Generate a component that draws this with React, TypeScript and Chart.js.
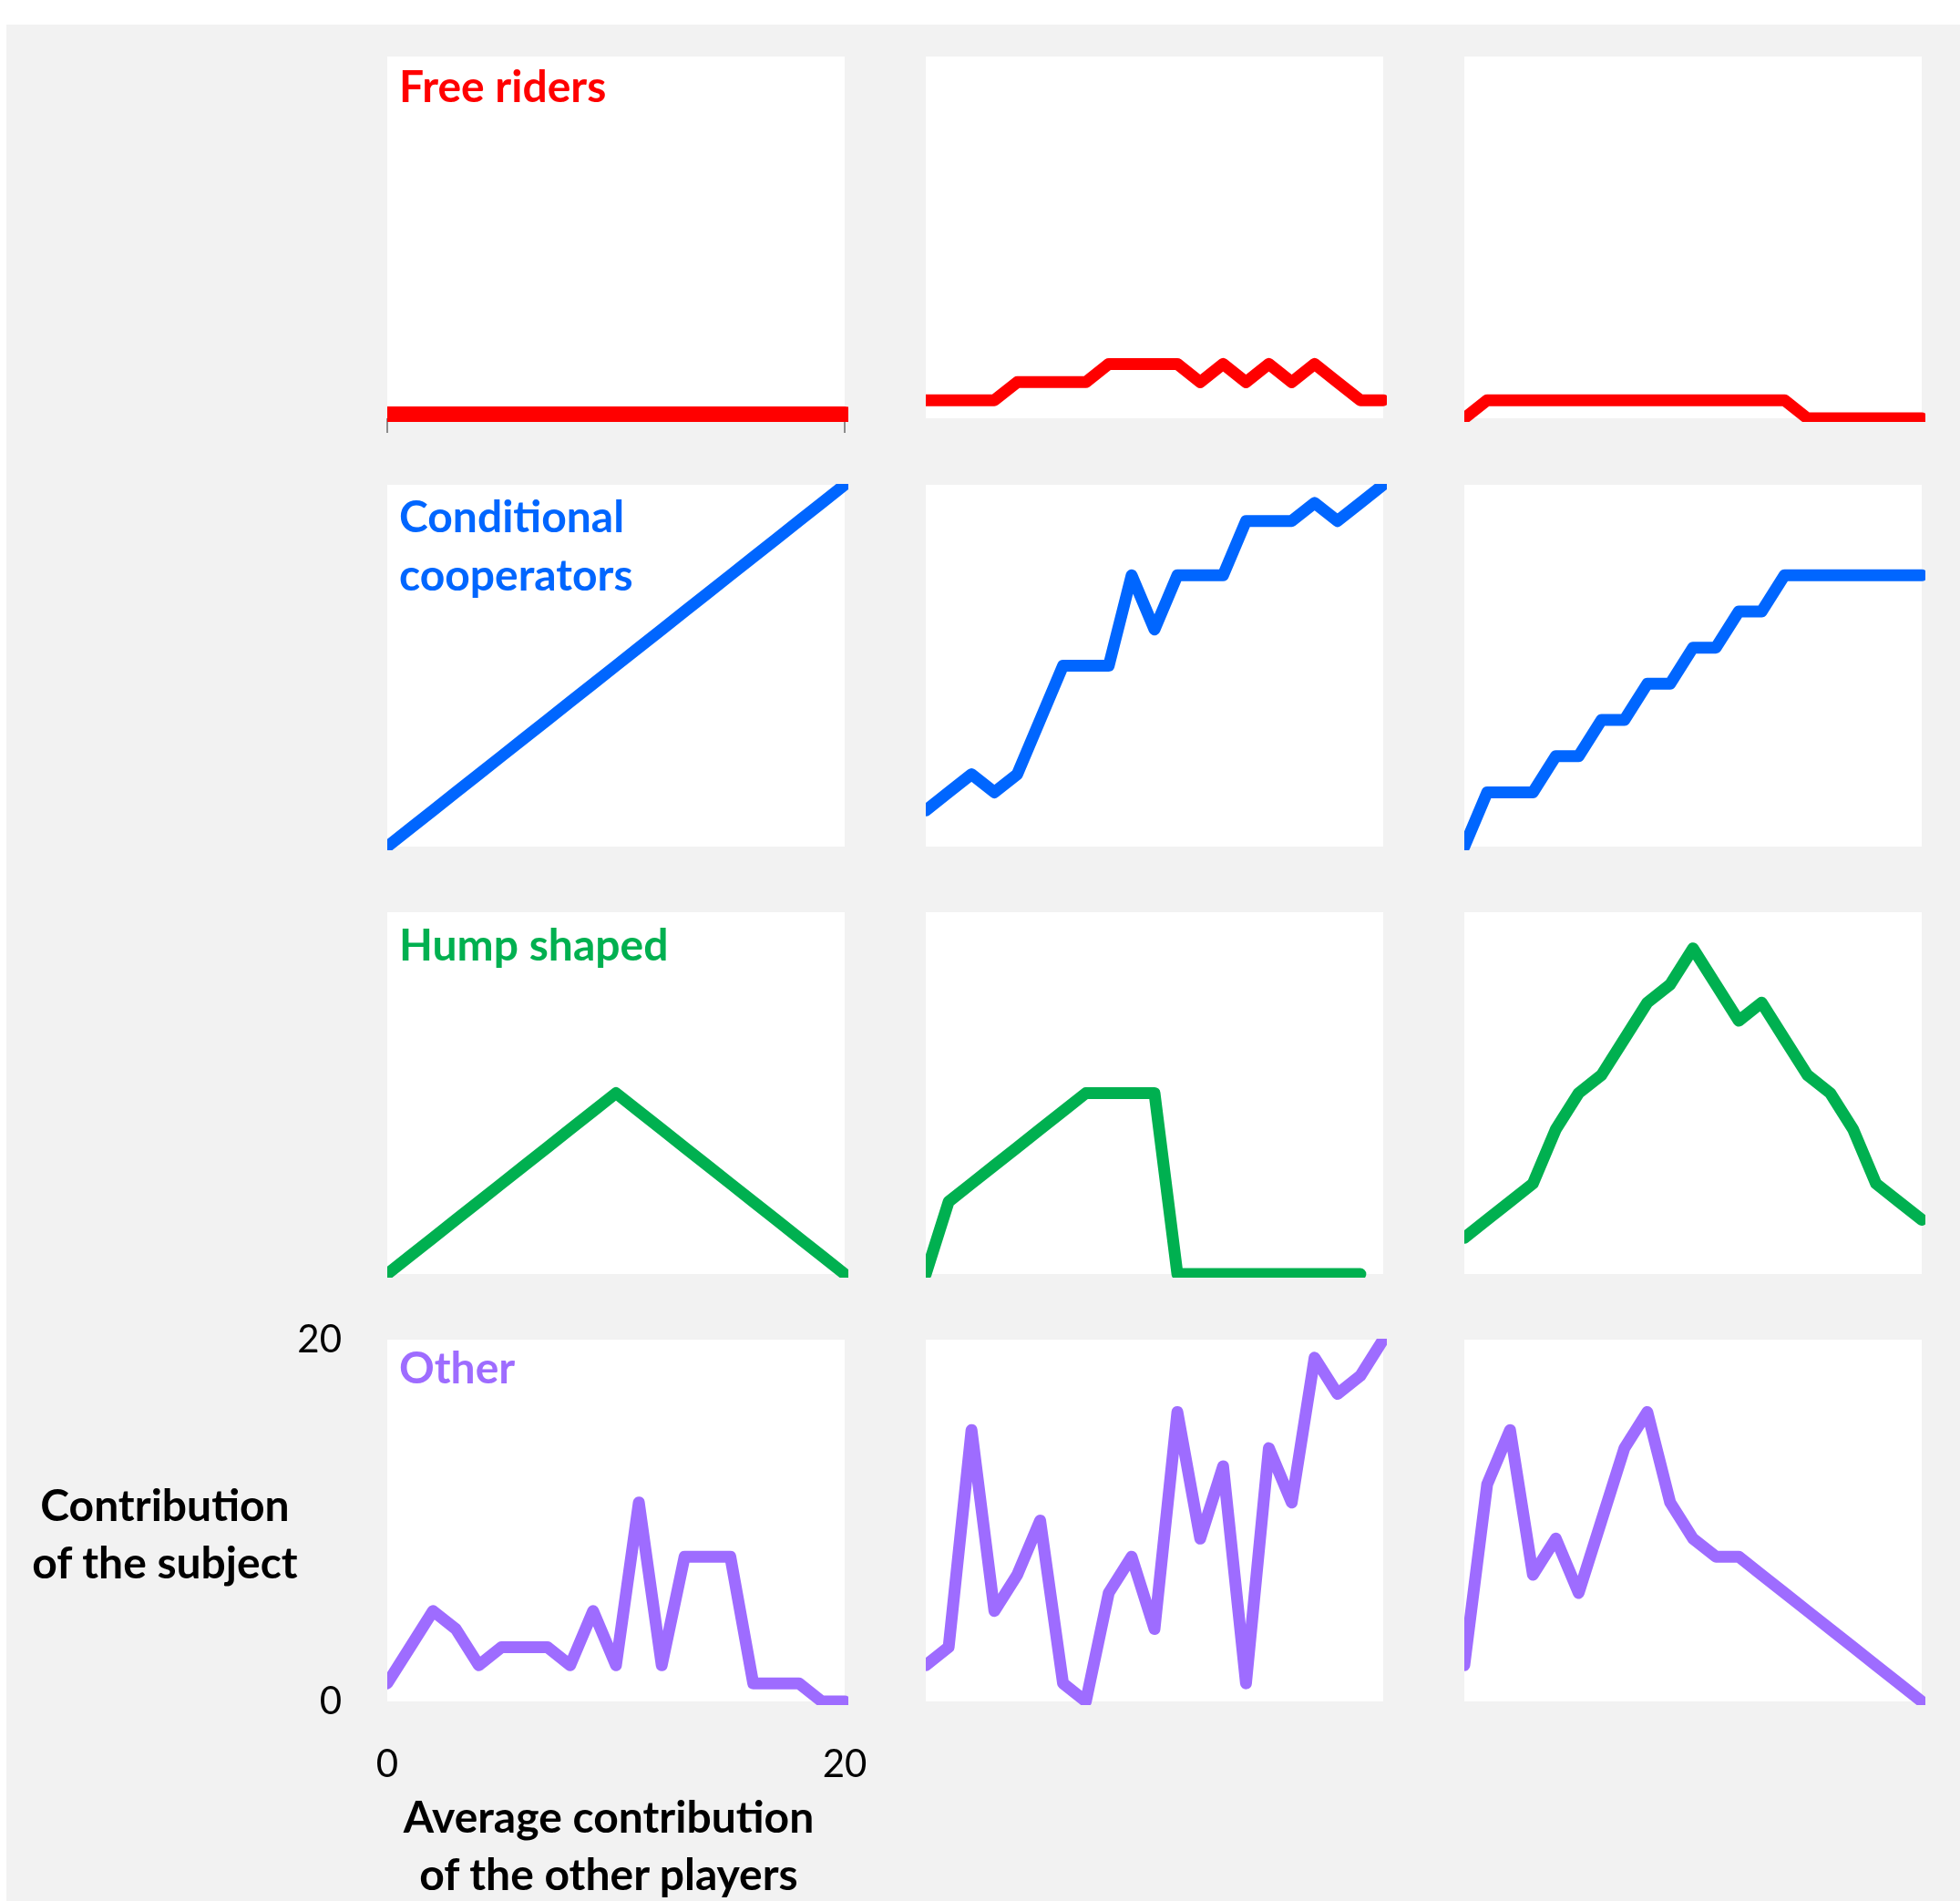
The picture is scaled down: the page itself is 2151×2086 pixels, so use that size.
import React, { useEffect, useRef } from "react";
import { Chart, registerables } from "chart.js";

Chart.register(...registerables);

// ---------- data ----------
const X_VALUES = [0, 1, 2, 3, 4, 5, 6, 7, 8, 9, 10, 11, 12, 13, 14, 15, 16, 17, 18, 19, 20];
const AXIS_TICKS = [0, 20];

const FREE_RIDERS_1 = [0, 0, 0, 0, 0, 0, 0, 0, 0, 0, 0, 0, 0, 0, 0, 0, 0, 0, 0, 0, 0];
const FREE_RIDERS_2 = [1, 1, 1, 1, 2, 2, 2, 2, 3, 3, 3, 3, 2, 3, 2, 3, 2, 3, 2, 1, 1];
const FREE_RIDERS_3 = [0, 1, 1, 1, 1, 1, 1, 1, 1, 1, 1, 1, 1, 1, 1, 0, 0, 0, 0, 0, 0];

const CONDITIONAL_1 = [0, 1, 2, 3, 4, 5, 6, 7, 8, 9, 10, 11, 12, 13, 14, 15, 16, 17, 18, 19, 20];
const CONDITIONAL_2 = [2, 3, 4, 3, 4, 7, 10, 10, 10, 15, 12, 15, 15, 15, 18, 18, 18, 19, 18, 19, 20];
const CONDITIONAL_3 = [0, 3, 3, 3, 5, 5, 7, 7, 9, 9, 11, 11, 13, 13, 15, 15, 15, 15, 15, 15, 15];

const HUMP_1 = [0, 1, 2, 3, 4, 5, 6, 7, 8, 9, 10, 9, 8, 7, 6, 5, 4, 3, 2, 1, 0];
const HUMP_2 = [0, 4, 5, 6, 7, 8, 9, 10, 10, 10, 10, 0, 0, 0, 0, 0, 0, 0, 0, 0];
const HUMP_3 = [2, 3, 4, 5, 8, 10, 11, 13, 15, 16, 18, 16, 14, 15, 13, 11, 10, 8, 5, 4, 3];

const OTHER_1 = [1, 3, 5, 4, 2, 3, 3, 3, 2, 5, 2, 11, 2, 8, 8, 8, 1, 1, 1, 0, 0];
const OTHER_2 = [2, 3, 15, 5, 7, 10, 1, 0, 6, 8, 4, 16, 9, 13, 1, 14, 11, 19, 17, 18, 20];
const OTHER_3 = [2, 12, 15, 7, 9, 6, 10, 14, 16, 11, 9, 8, 8, 7, 6, 5, 4, 3, 2, 1, 0];

const ROW_TITLES = [["Free riders"], ["Conditional", "cooperators"], ["Hump shaped"], ["Other"]];
const Y_AXIS_TITLE = ["Contribution", "of the subject"];
const X_AXIS_TITLE = ["Average contribution", "of the other players"];

// ---------- styles ----------
const RED = "#FF0000";
const BLUE = "#0066FF";
const GREEN = "#00B050";
const PURPLE = "#9E6CFF";
const ROW_COLORS = [RED, BLUE, GREEN, PURPLE];
const FONT = 'Lato, "Open Sans", "Noto Sans", sans-serif';

const COL_LEFT = [425, 1016, 1607];
const ROW_TOP = [62, 532, 1001, 1470];
const PANEL_W = 502;
const PANEL_H = 397;
const PAD = 30;
const AXES_PAD = { top: 90, right: 90, bottom: 30, left: 30 };
const TICKMARK_LEN = 16;
const YAXW = 120;
const XAXH = 100;

const SERIES: number[][][] = [
  [FREE_RIDERS_1, FREE_RIDERS_2, FREE_RIDERS_3],
  [CONDITIONAL_1, CONDITIONAL_2, CONDITIONAL_3],
  [HUMP_1, HUMP_2, HUMP_3],
  [OTHER_1, OTHER_2, OTHER_3],
];

const whitePanel = {
  id: "whitePanel",
  beforeDraw(chart: any) {
    const { ctx, chartArea } = chart;
    if (!chartArea) return;
    ctx.save();
    ctx.fillStyle = "#FFFFFF";
    ctx.fillRect(chartArea.left, chartArea.top, chartArea.right - chartArea.left, chartArea.bottom - chartArea.top);
    ctx.restore();
  },
};

type Kind = "plain" | "tickmarks" | "axes";

function Panel({ row, col, values, color, lineWidth, kind }: { row: number; col: number; values: number[]; color: string; lineWidth: number; kind: Kind }) {
  const ref = useRef<HTMLCanvasElement>(null);

  const pad = kind === "axes" ? AXES_PAD : { top: PAD, right: PAD, bottom: PAD, left: PAD };
  let left = COL_LEFT[col] - pad.left;
  let top = ROW_TOP[row] - pad.top;
  let width = PANEL_W + pad.left + pad.right;
  let height = PANEL_H + pad.top + pad.bottom;
  if (kind === "tickmarks") height += TICKMARK_LEN;
  if (kind === "axes") {
    left -= YAXW;
    width += YAXW;
    height += XAXH;
  }

  useEffect(() => {
    const canvas = ref.current;
    if (!canvas) return;
    const setTicks = (s: any) => {
      s.ticks = AXIS_TICKS.map((value) => ({ value }));
    };
    const tickFont = { family: FONT, size: 42, weight: "normal" as const };

    const xScale: any = {
      type: "linear",
      min: 0,
      max: 20,
      display: kind !== "plain",
      afterBuildTicks: setTicks,
      border: { display: false },
    };
    const yScale: any = {
      type: "linear",
      min: 0,
      max: 20,
      display: kind === "axes",
      afterBuildTicks: setTicks,
      border: { display: false },
    };
    if (kind === "tickmarks") {
      xScale.grid = { display: true, drawOnChartArea: false, drawTicks: true, tickLength: TICKMARK_LEN, lineWidth: 2, color: "#8C8C8C" };
      xScale.ticks = { display: false };
    }
    if (kind === "axes") {
      xScale.grid = { display: false, drawOnChartArea: false, drawTicks: false };
      xScale.ticks = { display: true, padding: 44, font: tickFont, color: "#000000", maxRotation: 0, autoSkip: false };
      xScale.afterFit = (s: any) => {
        s.height = XAXH;
      };
      yScale.grid = { display: false, drawOnChartArea: false, drawTicks: false };
      yScale.ticks = { display: true, padding: 50, font: tickFont, color: "#000000", autoSkip: false };
      yScale.afterFit = (s: any) => {
        s.width = YAXW;
      };
    }

    const chart = new Chart(canvas, {
      type: "line",
      data: {
        datasets: [
          {
            data: values.map((v, i) => ({ x: X_VALUES[i], y: v })),
            borderColor: color,
            backgroundColor: color,
            borderWidth: lineWidth,
            borderCapStyle: "round",
            borderJoinStyle: "round",
            pointRadius: 0,
            pointHoverRadius: 0,
            tension: 0,
            fill: false,
            clip: { left: 0, top: 1, right: 4, bottom: 4 } as any,
          },
        ],
      },
      options: {
        responsive: false,
        maintainAspectRatio: false,
        animation: false,
        devicePixelRatio: 1,
        events: [],
        layout: { padding: pad },
        plugins: {
          legend: { display: false },
          tooltip: { enabled: false },
          title: { display: false },
        },
        scales: { x: xScale, y: yScale },
      },
      plugins: [whitePanel],
    });
    return () => chart.destroy();
  }, []);

  return (
    <canvas
      ref={ref}
      width={width}
      height={height}
      style={{ position: "absolute", left, top, width, height }}
    />
  );
}

export default function App() {
  const panels: React.ReactNode[] = [];
  SERIES.forEach((rowSeries, r) => {
    rowSeries.forEach((values, c) => {
      let kind: Kind = "plain";
      if (r === 0 && c === 0) kind = "tickmarks";
      if (r === 3 && c === 0) kind = "axes";
      panels.push(
        <Panel
          key={`${r}-${c}`}
          row={r}
          col={c}
          values={values}
          color={ROW_COLORS[r]}
          lineWidth={r === 0 && c === 0 ? 26 : 13}
          kind={kind}
        />
      );
    });
  });

  const bold: React.CSSProperties = {
    position: "absolute",
    fontFamily: FONT,
    fontWeight: 700,
    fontSize: 48,
    lineHeight: "64px",
    whiteSpace: "nowrap",
    margin: 0,
  };

  const titleTops = [ROW_TOP[0], ROW_TOP[1] + 2, ROW_TOP[2] + 3, ROW_TOP[3] - 2];

  return (
    <div style={{ position: "absolute", left: 0, top: 0, width: 2151, height: 2086, overflow: "hidden", background: "#FFFFFF" }}>
      <div style={{ position: "absolute", left: 7, top: 27, right: 0, bottom: 0, background: "#F2F2F2" }} />
      {panels}
      {ROW_TITLES.map((lines, r) => (
        <div key={r} style={{ ...bold, left: COL_LEFT[0] + 13, top: titleTops[r], color: ROW_COLORS[r] }}>
          {lines.map((l, i) => (
            <div key={i}>{l}</div>
          ))}
        </div>
      ))}
      <div style={{ ...bold, left: 0, width: 362, top: 1619, textAlign: "center", color: "#000000", lineHeight: "63px" }}>
        {Y_AXIS_TITLE.map((l, i) => (
          <div key={i}>{l}</div>
        ))}
      </div>
      <div style={{ ...bold, left: COL_LEFT[0] - 108, width: PANEL_W + 200, top: 1961, textAlign: "center", color: "#000000", lineHeight: "63px" }}>
        {X_AXIS_TITLE.map((l, i) => (
          <div key={i}>{l}</div>
        ))}
      </div>
    </div>
  );
}
